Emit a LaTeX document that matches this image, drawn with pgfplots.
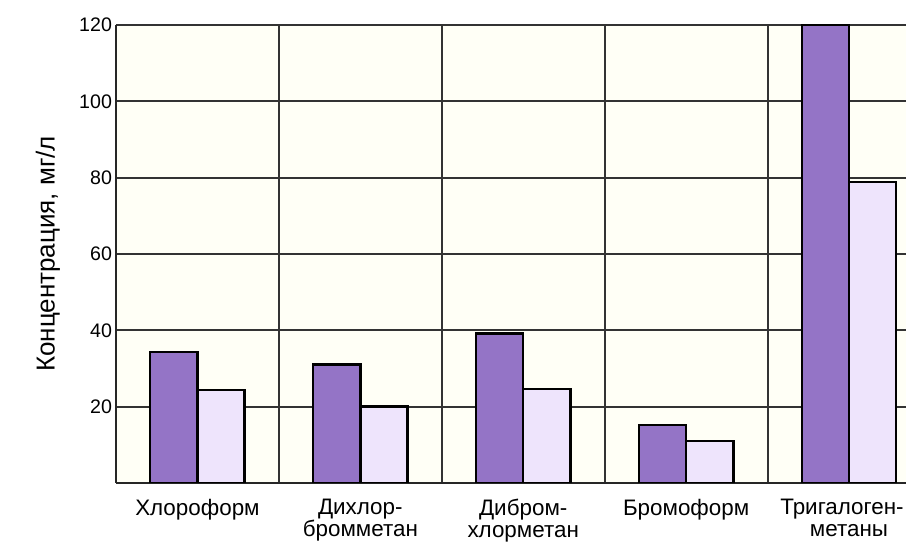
\documentclass[border=0pt]{standalone}
\usepackage{fontspec}
\setmainfont{Liberation Sans}
\usepackage{pgfplots}
\pgfplotsset{compat=1.18}
\definecolor{darkbar}{RGB}{148,116,198}
\definecolor{lightbar}{RGB}{238,228,252}
\definecolor{cream}{RGB}{255,255,246}
\begin{document}
\begin{tikzpicture}
\begin{axis}[
 scale only axis, width=395pt, height=229pt,
 xmin=-0.5, xmax=4.35, ymin=0, ymax=120,
 axis x line*=bottom, axis y line*=left,
 axis line style={-, line width=1.1pt, black!85},
 ytick={20,40,...,120},
 xtick={0,...,4},
 xticklabels={Хлороформ, {Дихлор-\\бромметан}, {Дибром-\\хлорметан}, Бромоформ, {\kern-7pt Тригалоген-\\метаны}},
 xticklabel style={align=center, yshift=-4.5pt, font=\fontsize{11.2}{11.2}\selectfont},
 yticklabel style={xshift=1.5pt, font=\fontsize{9.8}{11}\selectfont},
 minor xtick={0.5,1.5,2.5,3.5},
 xminorgrids, ymajorgrids,
 major tick length=0pt, minor tick length=0pt,
 grid style={line width=1pt, black!80},
 minor grid style={line width=1pt, black!80},
 axis background/.style={fill=cream},
 ylabel={Концентрация, мг/л},
 every axis y label/.style={at={(axis description cs:0,0.5)}, xshift=-34pt, anchor=center, rotate=90, font=\fontsize{13}{14}\selectfont},
 /pgf/number format/assume math mode=true,
 ybar, bar width=0.29,
]
\addplot[fill=darkbar, draw=black, line width=1.2pt, bar shift=-0.145] coordinates {(0,34.3) (1,31) (2,39.2) (3,15.2) (4,120)};
\addplot[fill=lightbar, draw=black, line width=1.2pt, bar shift=0.145] coordinates {(0,24.3) (1,20) (2,24.6) (3,11) (4,78.8)};
\end{axis}
\pgfresetboundingbox
\path (-58pt,-31pt) rectangle (395pt,241.5pt);
\end{tikzpicture}
\end{document}
